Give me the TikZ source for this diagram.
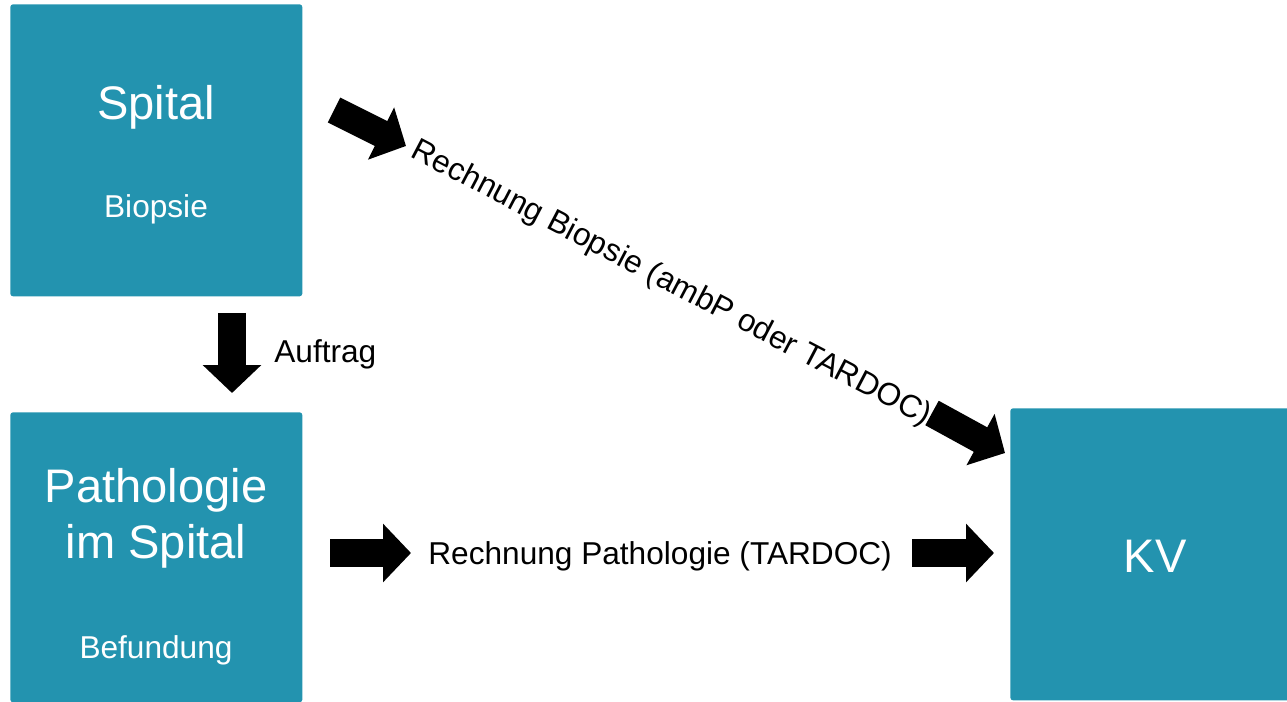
\documentclass[tikz,border=0pt]{standalone}
\usepackage{fontspec}
\setmainfont{Liberation Sans}
\usetikzlibrary{arrows.meta}
\definecolor{boxblue}{RGB}{35,147,175}

\begin{document}
\begin{tikzpicture}[x = {(0.02cm,0cm)},
  y = {(0cm,-0.02cm)},
  box/.style={fill=boxblue, rounded corners=1.5pt, inner sep=0pt, anchor=north west},
  bigtext/.style={text=white, font=\fontsize{26.8}{32}\selectfont, anchor=base, inner sep=0pt},
  smalltext/.style={text=white, font=\fontsize{18}{21}\selectfont, anchor=base, inner sep=0pt},
  lbltext/.style={text=black, font=\fontsize{18}{21}\selectfont, inner sep=0pt},
  blockarrow/.style={line width=15.9pt, -{Triangle[length=15.9pt, width=32.4pt]}}]

  % page frame
  \useasboundingbox (0,0) rectangle (1287,702);
  \clip (0,0) rectangle (1287,702);

  % boxes
  \node[box, minimum width=5.84cm, minimum height=5.84cm] (spital) at (10,4) {};
  \node[box, minimum width=5.84cm, minimum height=5.8cm] (patho) at (10,412) {};
  \node[box, minimum width=5.84cm, minimum height=5.84cm] (kv) at (1010,408) {};

  % box texts
  \node[bigtext] (spitalname) at (156,120) {Spital};
  \node[smalltext] (biopsie) at (156,218) {Biopsie};
  \node[bigtext] (pathoname) at (156,502) {Pathologie};
  \node[bigtext] (pathoplace) at (156,558) {im Spital};
  \node[smalltext] (befund) at (156,658) {Befundung};
  \node[bigtext] (kvname) at (1155,572) {KV};

  % arrow labels
  \node[lbltext, anchor=base west] (auftrag) at (274,362) {Auftrag};
  \node[lbltext, anchor=base west] (pathobill) at (428,564) {Rechnung Pathologie (TARDOC)};
  \node[lbltext, rotate=-27.6] (biopsiebill) at (671,284) {Rechnung Biopsie (ambP oder TARDOC)};

  % arrow ends
  \def\ay{553}
  \coordinate (d1s) at (232,313);
  \coordinate (d1e) at (232,393);
  \coordinate (h1s) at (330,\ay);
  \coordinate (h1e) at (411,\ay);
  \coordinate (h2s) at (912,\ay);
  \coordinate (h2e) at (994,\ay);
  \coordinate (g1s) at (334,110);
  \coordinate (g1e) at (406,146);
  \coordinate (g2s) at (932,413);
  \coordinate (g2e) at (1005,453);

  % block arrows
  \foreach \s/\e in {d1s/d1e, h1s/h1e, h2s/h2e, g1s/g1e, g2s/g2e}
  \draw[blockarrow] (\s) -- (\e);

\end{tikzpicture}
\end{document}
